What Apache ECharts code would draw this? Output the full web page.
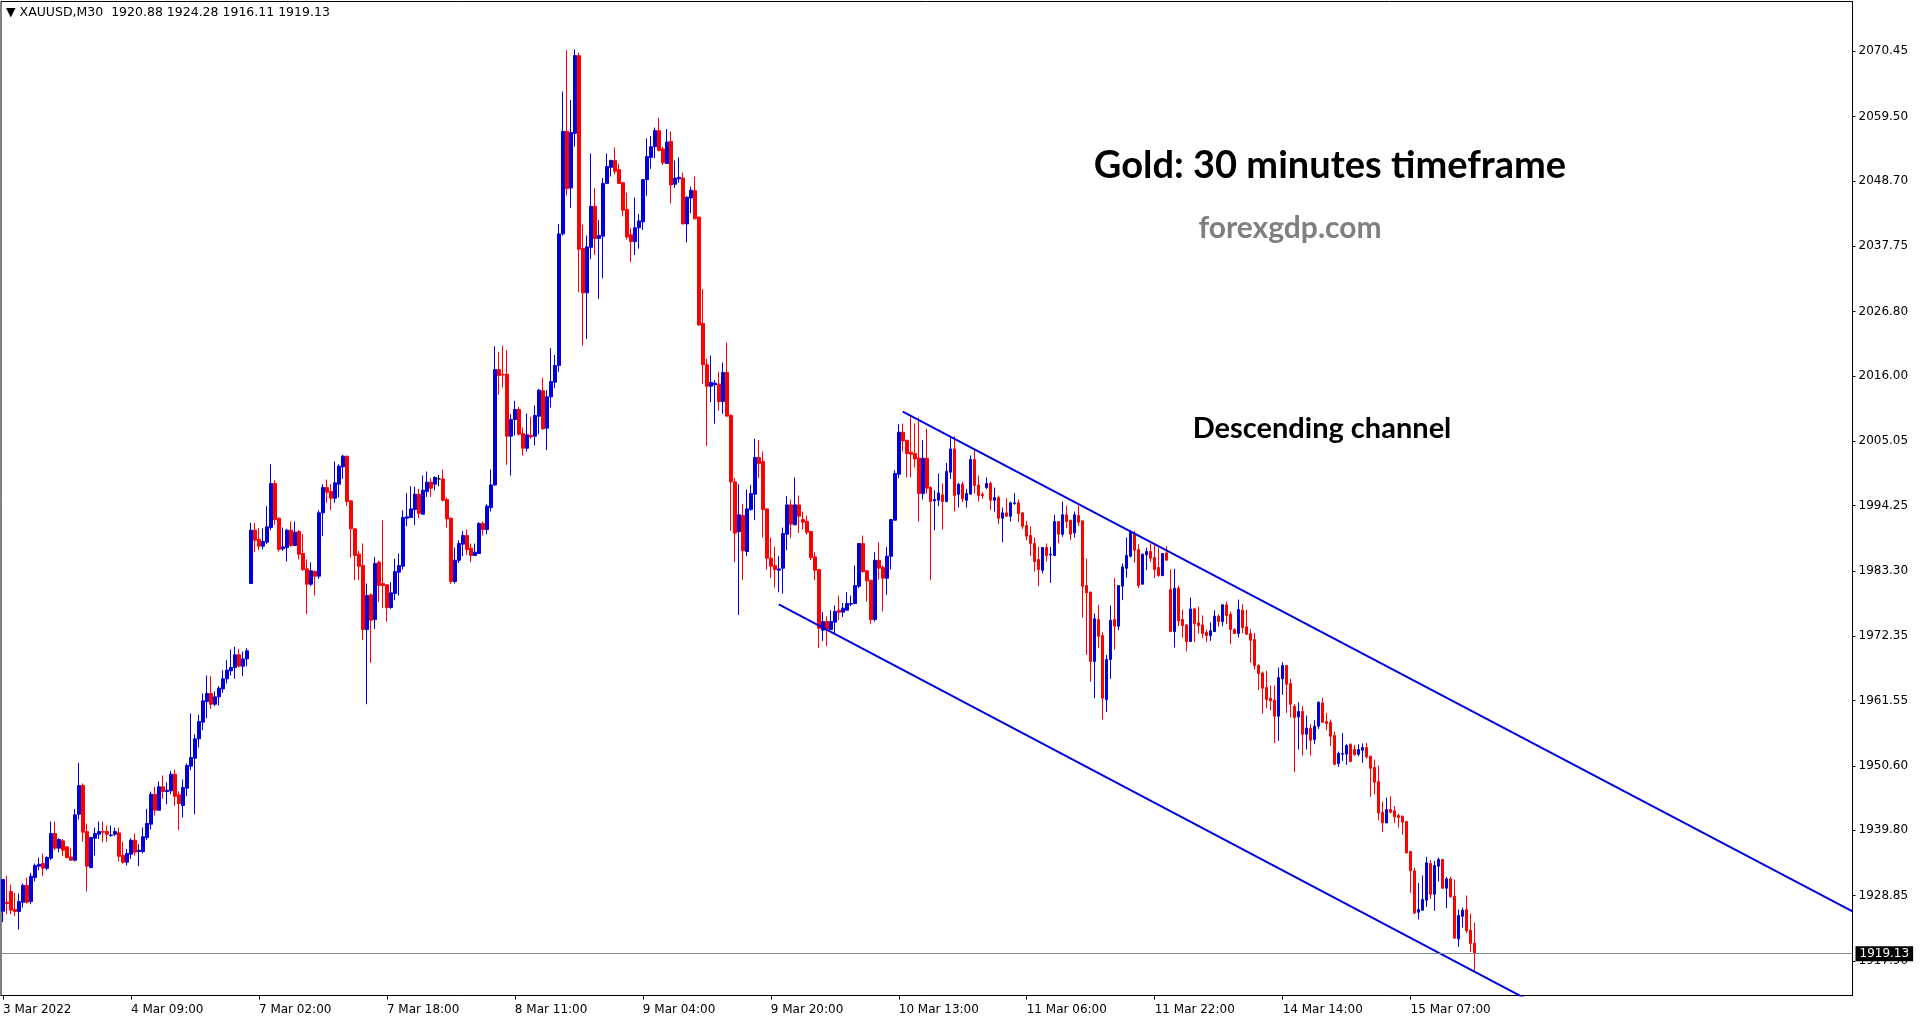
<!DOCTYPE html>
<html><head><meta charset="utf-8">
<script src="https://cdn.jsdelivr.net/npm/echarts@6/dist/echarts.min.js"></script>
<style>html,body{margin:0;padding:0;background:#fff;}#c{width:1925px;height:1023px;}</style>
</head><body><div id="c"></div>
<script>
const symbolName = 'XAUUSD,M30';
const timeTickLabels = ['3 Mar 2022','4 Mar 09:00','7 Mar 02:00','7 Mar 18:00','8 Mar 11:00','9 Mar 04:00','9 Mar 20:00','10 Mar 13:00','11 Mar 06:00','11 Mar 22:00','14 Mar 14:00','15 Mar 07:00'];
const barsPerTimeTick = 32;
const totalSlots = 463;
const priceTickLabels = [2070.45,2059.50,2048.70,2037.75,2026.80,2016.00,2005.05,1994.25,1983.30,1972.35,1961.55,1950.60,1939.80,1928.85,1917.90];
const priceMin = 1912.11, priceMax = 2078.77;

const opens = [1926.24,1927.75,1929.54,1926.52,1926.19,1927.75,1930.55,1927.86,1931.89,1933.79,1934.24,1933.45,1935.13,1939.27,1936.81,1938.04,1937.03,1935.35,1934.79,1942.51,1947.31,1939.60,1933.56,1938.48,1939.15,1939.60,1939.60,1938.93,1939.15,1939.38,1935.58,1934.46,1935.80,1938.15,1936.25,1936.25,1938.60,1940.83,1945.86,1943.18,1947.09,1946.31,1946.42,1949.21,1945.75,1943.96,1946.87,1950.56,1951.90,1955.14,1957.94,1961.40,1962.74,1960.95,1962.18,1963.52,1965.20,1966.54,1967.10,1969.23,1967.33,1968.55,1981.19,1990.13,1988.56,1987.45,1988.12,1990.57,1997.95,1992.14,1987.00,1987.22,1990.13,1987.56,1989.90,1986.22,1983.65,1981.07,1983.20,1982.42,1993.03,1997.28,1996.61,1995.49,1997.84,2000.75,2002.54,1995.05,1990.35,1986.10,1984.20,1973.47,1979.29,1975.15,1984.76,1981.18,1980.96,1977.16,1979.51,1983.08,1984.09,1992.14,1992.25,1993.59,1996.16,1992.81,1996.61,1998.17,1997.84,1998.73,1998.73,1995.27,1992.14,1981.52,1985.09,1987.78,1989.23,1987.11,1985.88,1986.21,1991.24,1990.24,1993.92,1997.72,2017.06,2016.28,2016.28,2005.89,2008.68,2010.36,2006.33,2003.87,2006.00,2005.89,2009.24,2013.49,2007.23,2012.48,2014.94,2017.73,2039.80,2056.99,2047.50,2056.67,2069.70,2037.36,2029.92,2037.55,2044.42,2039.03,2039.41,2048.27,2050.96,2052.12,2050.58,2048.39,2043.90,2039.67,2038.51,2040.83,2041.85,2048.91,2052.63,2054.43,2057.12,2054.04,2051.60,2055.32,2048.14,2049.04,2049.17,2041.47,2045.83,2047.05,2042.62,2024.79,2017.86,2014.26,2014.52,2014.65,2011.70,2016.57,2009.39,1998.22,1989.88,1992.58,1986.55,1993.59,1996.16,2002.31,2001.64,1993.70,1985.43,1984.20,1983.42,1983.75,1989.45,1994.37,1991.02,1994.37,1991.91,1991.58,1989.90,1985.65,1983.53,1973.36,1974.81,1973.47,1974.70,1976.71,1976.38,1976.71,1977.72,1977.83,1980.73,1987.89,1983.31,1981.74,1975.15,1985.09,1983.87,1982.08,1985.76,1991.80,1999.51,2006.56,2005.21,2003.20,2002.98,2002.20,1996.27,2002.20,1997.28,1995.04,1995.15,1996.05,1994.93,1999.85,2003.76,1996.16,1997.84,1995.15,1996.16,2001.97,1997.72,1996.16,1997.28,1997.95,1995.15,1995.60,1992.14,1993.03,1992.47,1994.60,1994.71,1993.03,1990.91,1989.23,1987.89,1985.21,1983.42,1987.22,1985.99,1985.88,1991.58,1989.45,1992.70,1991.80,1989.68,1992.58,1991.69,1980.85,1979.73,1968.10,1975.15,1972.46,1961.73,1968.44,1975.15,1974.03,1980.73,1983.75,1985.77,1989.57,1986.88,1981.07,1985.99,1986.55,1985.54,1983.87,1982.52,1986.32,1980.18,1973.14,1980.40,1975.15,1974.25,1971.46,1976.93,1974.59,1974.25,1973.02,1972.46,1973.14,1975.71,1974.81,1977.61,1976.04,1973.47,1972.80,1976.71,1973.92,1972.80,1971.79,1967.43,1966.20,1963.75,1961.96,1961.62,1958.94,1965.20,1967.43,1964.42,1960.61,1958.83,1959.72,1955.92,1956.93,1955.03,1957.26,1961.17,1958.04,1957.93,1955.70,1951.00,1952.57,1952.57,1954.24,1953.35,1952.57,1953.24,1953.69,1952.23,1950.33,1947.98,1942.84,1941.05,1943.29,1943.07,1942.28,1942.17,1941.28,1936.25,1933.01,1926.07,1926.41,1928.09,1934.24,1929.09,1933.79,1934.91,1930.10,1931.66,1928.76,1921.61,1925.40,1926.52,1923.06,1920.88];
const highs = [1931.66,1932.22,1930.71,1929.32,1929.21,1930.88,1931.89,1932.67,1934.24,1935.24,1935.91,1935.46,1941.28,1941.28,1938.48,1938.37,1937.14,1936.81,1943.40,1951.11,1947.65,1940.94,1938.71,1940.27,1941.28,1941.28,1940.61,1940.61,1940.27,1940.27,1937.92,1936.69,1938.48,1939.27,1937.48,1940.27,1943.40,1946.31,1947.09,1947.98,1948.99,1947.87,1949.77,1949.99,1946.31,1948.32,1951.00,1959.39,1955.92,1959.17,1962.74,1965.76,1965.65,1963.08,1963.97,1966.66,1968.33,1970.12,1970.57,1970.23,1969.78,1970.34,1991.36,1991.36,1990.46,1990.46,1994.15,2001.19,1998.51,1992.25,1990.57,1990.35,1991.58,1991.58,1990.13,1989.46,1985.21,1984.76,1983.42,1993.48,1997.84,1998.62,1997.84,2001.64,2001.19,2002.76,2002.54,1995.16,1990.46,1986.66,1987.89,1981.19,1979.51,1985.65,1984.98,1991.80,1981.07,1981.41,1985.32,1986.21,1993.48,1996.38,1997.50,1997.39,1997.05,1999.29,1999.96,1998.84,1999.18,1999.40,2000.30,1995.60,1992.25,1987.22,1988.45,1990.01,1990.24,1987.89,1987.89,1991.47,1991.58,1994.48,2000.30,2020.98,2019.97,2021.09,2020.30,2009.57,2011.81,2010.80,2007.34,2009.69,2009.13,2011.03,2013.82,2015.72,2013.60,2020.64,2019.52,2041.47,2063.66,2070.59,2062.25,2070.72,2070.21,2041.34,2039.54,2053.27,2047.50,2042.11,2049.17,2053.27,2052.24,2054.30,2051.60,2048.39,2046.73,2040.83,2045.89,2043.13,2048.91,2055.84,2056.22,2057.63,2059.30,2054.43,2057.38,2056.99,2052.12,2052.63,2050.06,2046.08,2047.75,2049.42,2042.62,2030.56,2018.88,2019.40,2015.29,2016.70,2018.24,2021.58,2009.52,1998.86,1997.84,1994.50,1996.94,1997.73,2005.44,2005.21,2003.31,1993.70,1988.90,1987.33,1985.76,1990.57,1995.83,1995.27,1998.96,1995.94,1993.25,1992.58,1990.01,1986.44,1983.53,1976.38,1975.70,1976.71,1977.49,1979.17,1977.94,1979.73,1979.17,1984.20,1987.89,1989.23,1983.42,1981.74,1986.44,1988.11,1984.20,1987.33,1992.02,2000.18,2007.90,2008.01,2005.21,2009.24,2008.01,2009.02,2005.21,2007.12,1997.50,1996.83,1999.63,1997.95,2001.41,2005.89,2005.89,1998.06,1998.28,1997.05,2002.64,2003.54,1999.29,1996.50,1998.96,1998.28,1997.28,1995.94,1993.92,1995.49,1994.93,1996.38,1995.27,1993.14,1991.69,1990.79,1988.90,1987.33,1987.22,1987.89,1987.33,1992.70,1991.58,1994.93,1994.26,1991.80,1993.25,1994.26,1991.69,1985.32,1979.84,1976.15,1977.61,1973.02,1969.22,1977.49,1982.08,1980.85,1984.54,1988.89,1990.12,1990.01,1987.78,1986.21,1987.22,1987.89,1987.67,1987.22,1986.21,1987.44,1983.53,1983.64,1980.85,1976.82,1974.36,1978.83,1977.05,1977.27,1975.82,1973.47,1974.70,1976.71,1976.04,1977.72,1978.16,1976.49,1973.69,1978.50,1977.72,1976.82,1973.58,1972.91,1967.66,1966.43,1966.54,1964.08,1964.08,1967.10,1967.99,1967.43,1965.20,1960.95,1961.29,1960.62,1959.05,1957.60,1958.27,1961.40,1962.07,1959.50,1958.38,1956.37,1953.01,1956.14,1954.24,1954.36,1954.13,1954.24,1954.36,1954.47,1952.23,1951.67,1950.67,1944.63,1945.30,1945.52,1943.85,1942.62,1942.28,1941.39,1936.36,1933.56,1930.99,1932.22,1935.35,1934.79,1934.68,1935.24,1935.02,1932.00,1932.00,1931.55,1926.52,1926.86,1928.87,1925.85,1924.28];
const lows = [1924.40,1925.74,1925.74,1925.40,1923.17,1926.86,1927.53,1927.42,1931.22,1933.12,1932.11,1933.12,1934.79,1936.47,1936.14,1935.46,1935.13,1934.79,1934.57,1941.61,1937.92,1929.54,1933.45,1935.58,1938.37,1937.81,1937.92,1938.71,1938.82,1934.57,1934.24,1933.90,1935.02,1935.58,1933.79,1935.91,1938.15,1939.94,1942.28,1943.18,1945.08,1944.18,1945.86,1943.85,1939.82,1941.95,1945.52,1949.89,1942.51,1953.69,1956.59,1958.61,1960.17,1960.62,1960.73,1962.85,1964.42,1965.76,1965.20,1967.10,1965.65,1967.33,1981.19,1986.44,1986.77,1986.89,1987.78,1990.13,1991.02,1986.55,1986.66,1984.87,1987.33,1987.56,1985.21,1983.31,1976.04,1980.74,1979.17,1981.97,1989.12,1994.71,1993.48,1994.71,1995.61,1998.74,1994.15,1985.54,1981.74,1981.74,1971.68,1960.95,1967.88,1973.58,1978.05,1977.05,1974.81,1976.93,1978.39,1979.17,1983.53,1990.79,1992.25,1991.02,1992.14,1992.81,1995.71,1995.71,1996.83,1997.50,1994.93,1990.57,1981.07,1981.18,1984.65,1985.77,1985.99,1984.76,1985.88,1986.21,1989.23,1989.45,1993.25,1997.61,2012.82,2014.05,2001.08,1999.29,2006.00,2006.00,2002.64,2003.31,2005.44,2004.32,2006.22,2007.00,2003.54,2010.69,2013.93,2016.70,2039.54,2046.21,2044.16,2054.43,2030.05,2021.06,2022.16,2035.56,2036.27,2028.89,2032.36,2048.14,2049.42,2049.81,2048.14,2042.75,2038.90,2035.05,2036.27,2037.36,2040.44,2046.21,2050.71,2052.50,2053.66,2051.35,2051.60,2044.93,2047.50,2048.39,2041.47,2038.39,2043.26,2042.24,2024.40,2014.65,2004.26,2011.57,2007.98,2010.16,2009.64,2009.13,1990.01,1984.75,1975.90,1981.80,1985.76,1993.37,1991.80,1998.84,1988.90,1983.53,1982.08,1980.51,1979.73,1979.51,1986.77,1988.78,1991.02,1989.68,1990.24,1989.34,1985.09,1981.74,1970.34,1971.57,1970.67,1973.47,1972.80,1975.03,1975.59,1976.71,1977.38,1977.83,1980.40,1982.97,1978.16,1974.36,1974.81,1981.85,1976.49,1979.28,1983.53,1991.80,1998.84,2003.31,1998.96,1998.96,2000.63,1991.58,1995.27,1996.27,1981.74,1990.12,1994.15,1990.24,1994.82,1998.73,1993.25,1993.92,1994.82,1993.92,1996.16,1996.27,1994.93,1995.38,1997.05,1993.48,1993.25,1991.13,1988.11,1992.36,1991.58,1994.37,1991.47,1990.35,1988.45,1985.77,1983.19,1980.73,1982.86,1984.87,1981.29,1985.77,1987.89,1989.01,1990.46,1988.45,1988.90,1990.79,1975.48,1969.22,1964.75,1961.96,1970.34,1958.38,1959.61,1965.20,1970.12,1973.36,1978.39,1982.19,1985.54,1984.65,1980.40,1981.07,1983.42,1984.76,1982.08,1982.30,1982.41,1985.09,1973.02,1970.45,1974.03,1972.13,1969.78,1971.46,1971.35,1972.80,1972.02,1971.35,1971.57,1973.02,1973.92,1974.03,1974.36,1971.01,1972.80,1972.13,1972.91,1972.58,1967.88,1966.76,1963.30,1959.39,1960.28,1959.94,1954.47,1954.80,1962.52,1959.50,1958.72,1949.55,1953.35,1952.34,1953.35,1952.34,1954.24,1956.81,1957.82,1956.59,1953.91,1950.67,1950.44,1951.45,1950.78,1951.23,1952.34,1952.23,1951.11,1951.78,1945.41,1945.86,1941.50,1939.49,1941.05,1942.62,1941.05,1940.27,1939.04,1935.91,1929.32,1925.74,1924.85,1926.41,1926.97,1928.31,1926.30,1931.22,1929.99,1926.75,1928.54,1921.72,1920.26,1923.50,1922.61,1919.37,1916.11];
const closes = [1931.55,1927.53,1926.41,1926.19,1927.86,1930.55,1927.75,1932.11,1933.90,1934.12,1933.45,1935.24,1939.27,1936.81,1938.26,1936.47,1935.24,1934.79,1942.40,1947.31,1939.49,1933.79,1938.60,1939.27,1939.60,1939.49,1939.15,1939.04,1939.60,1935.46,1934.46,1935.91,1938.15,1936.14,1936.47,1938.71,1940.94,1945.86,1943.18,1947.09,1946.31,1946.53,1949.21,1945.52,1944.30,1946.98,1950.67,1952.01,1955.14,1958.05,1961.51,1962.74,1960.95,1962.18,1963.64,1965.20,1966.66,1967.10,1969.23,1967.33,1968.55,1969.90,1990.13,1988.45,1987.45,1988.23,1990.69,1997.95,1991.92,1986.89,1987.33,1990.13,1987.56,1989.79,1986.10,1983.53,1981.07,1983.31,1982.42,1993.03,1997.28,1996.50,1995.49,1998.06,2000.86,2002.54,1994.93,1990.35,1985.88,1984.09,1973.47,1979.17,1975.04,1984.53,1980.85,1980.85,1977.16,1979.62,1983.19,1984.20,1992.25,1992.36,1993.70,1996.16,1992.92,1996.83,1998.17,1997.17,1998.96,1998.73,1995.15,1992.02,1981.52,1985.09,1987.89,1989.23,1986.88,1985.88,1986.44,1991.24,1990.24,1994.15,1997.72,2017.06,2016.06,2016.17,2005.89,2008.68,2010.36,2006.22,2003.87,2006.11,2005.77,2009.35,2013.60,2007.11,2012.48,2015.05,2017.73,2039.80,2056.99,2047.37,2056.80,2069.70,2037.23,2029.92,2037.62,2044.42,2039.03,2039.54,2048.27,2051.09,2052.12,2050.32,2048.27,2043.78,2039.28,2038.51,2040.83,2041.98,2048.91,2052.76,2054.43,2057.12,2053.78,2051.73,2055.20,2048.01,2049.17,2049.29,2041.47,2045.96,2047.11,2042.36,2024.53,2017.86,2014.26,2014.90,2014.78,2011.70,2016.57,2009.26,1998.22,1989.63,1992.71,1986.68,1993.70,1996.27,2002.31,2001.30,1993.59,1985.43,1984.09,1983.53,1983.64,1989.57,1994.37,1991.13,1994.37,1992.47,1991.47,1989.79,1985.54,1983.42,1973.69,1974.81,1973.58,1974.81,1976.49,1976.38,1977.05,1977.83,1977.83,1980.85,1987.89,1983.19,1981.63,1975.15,1985.09,1983.75,1982.08,1985.76,1991.91,1999.63,2006.56,2005.10,2002.98,2002.87,2002.08,1996.27,2002.20,1997.17,1994.93,1995.27,1996.38,1994.93,1999.96,2003.76,1995.94,1997.84,1995.38,1996.27,2001.97,1997.61,1995.94,1995.94,1997.95,1995.15,1995.60,1992.14,1993.03,1992.47,1994.71,1994.71,1992.92,1990.79,1989.12,1987.89,1984.87,1983.53,1987.22,1985.88,1986.10,1991.58,1989.45,1992.70,1991.58,1989.45,1992.70,1991.47,1980.73,1979.62,1968.10,1975.26,1972.35,1961.96,1968.44,1975.03,1974.03,1980.85,1983.98,1985.88,1989.79,1986.77,1980.85,1986.10,1986.55,1985.43,1983.53,1982.52,1986.21,1985.09,1973.14,1980.40,1974.92,1974.14,1971.46,1976.93,1974.48,1974.14,1972.80,1972.46,1973.25,1975.71,1974.81,1977.61,1975.82,1973.47,1972.80,1976.82,1973.81,1972.69,1971.68,1967.43,1966.09,1963.63,1961.73,1961.51,1958.94,1965.42,1967.43,1964.30,1960.95,1958.72,1959.72,1955.92,1956.93,1954.91,1957.26,1961.29,1957.93,1957.71,1955.59,1950.89,1952.68,1952.68,1954.02,1951.34,1952.46,1953.35,1953.69,1952.12,1950.22,1947.87,1942.73,1941.05,1943.29,1942.84,1942.06,1941.95,1941.17,1936.02,1933.01,1925.96,1926.52,1928.20,1934.35,1929.09,1933.90,1934.91,1930.10,1931.66,1928.65,1921.72,1925.52,1926.41,1922.95,1920.82,1919.13];

const upperChannel = [[225, 2010.0], [462.5, 1926.2]];
const lowerChannel = [[194, 1977.67], [390, 1908.31]];

const titleText = 'Gold: 30 minutes timeframe';
const siteText = 'forexgdp.com';
const patternText = 'Descending channel';

const bull = '#0000DD', bear = '#FF0000';
const last = closes.length - 1;
const lastClose = closes[last];
const header = '\u25BC ' + symbolName + '  ' + [opens[last], highs[last], lows[last], closes[last]].map(v => v.toFixed(2)).join(' ');

const slots = Array.from({length: totalSlots}, (_, i) => String(i));
const candleData = opens.map((o, i) => [o, closes[i], lows[i], highs[i]]);
const isTimeTick = (idx) => idx % barsPerTimeTick === 0 && idx / barsPerTimeTick < timeTickLabels.length;

const chart = echarts.init(document.getElementById('c'), null, {renderer: 'canvas'});
chart.setOption({
  animation: false,
  backgroundColor: '#fff',
  grid: {left: 0.5, top: 1.5, width: 1852, height: 994, show: true, borderColor: '#000', borderWidth: 1, containLabel: false},
  xAxis: [{
    type: 'category', data: slots, boundaryGap: true,
    axisLine: {show: true, onZero: false, lineStyle: {color: '#000', width: 1}},
    axisTick: {show: true, alignWithLabel: true, interval: (i) => isTimeTick(i), length: 4, lineStyle: {color: '#000'}},
    axisLabel: {show: true, interval: (i) => isTimeTick(i), formatter: (v, i) => timeTickLabels[i / barsPerTimeTick] || '', align: 'left', margin: 8, color: '#000', fontFamily: 'DejaVu Sans', fontSize: 12},
    splitLine: {show: false}
  }, {
    type: 'value', min: -0.5, max: totalSlots - 0.5, show: false,
    axisLine: {show: false, onZero: false}, axisTick: {show: false}, axisLabel: {show: false}, splitLine: {show: false}
  }],
  yAxis: [{
    type: 'value', position: 'right', min: priceMin, max: priceMax, scale: true,
    axisLine: {show: true, onZero: false, lineStyle: {color: '#000', width: 1}},
    axisTick: {show: true, customValues: priceTickLabels, length: 3, lineStyle: {color: '#000'}},
    axisLabel: {show: true, customValues: priceTickLabels, formatter: (v) => v.toFixed(2), margin: 6, color: '#000', fontFamily: 'DejaVu Sans', fontSize: 12},
    splitLine: {show: false}
  }],
  series: [{
    type: 'candlestick', xAxisIndex: 0, yAxisIndex: 0, data: candleData, barWidth: 3,
    itemStyle: {color: bull, color0: bear, borderColor: bull, borderColor0: bear, borderColorDoji: '#000', borderWidth: 1},
    emphasis: {disabled: true},
    markLine: {
      symbol: ['none', 'none'], silent: true, animation: false,
      lineStyle: {color: '#7d8a96', width: 1, type: 'solid'},
      label: {show: true, position: 'end', distance: 3, formatter: () => lastClose.toFixed(2), color: '#fff', backgroundColor: '#000', padding: [2, 4, 1, 4], fontFamily: 'DejaVu Sans', fontSize: 12},
      emphasis: {disabled: true},
      data: [{yAxis: lastClose}]
    }
  }, {
    type: 'line', xAxisIndex: 1, yAxisIndex: 0, data: upperChannel, symbol: 'none', clip: true,
    lineStyle: {color: bull, width: 2}, emphasis: {disabled: true}, silent: true
  }, {
    type: 'line', xAxisIndex: 1, yAxisIndex: 0, data: lowerChannel, symbol: 'none', clip: true,
    lineStyle: {color: bull, width: 2}, emphasis: {disabled: true}, silent: true
  }],
  graphic: [
    {type: 'text', left: 6, top: 6, silent: true, style: {text: header, fill: '#000', font: '12.5px "DejaVu Sans"'}},
    {type: 'text', x: 1330, y: 166, silent: true, style: {text: titleText, fill: '#000', font: 'bold 38px Lato', align: 'center', verticalAlign: 'middle'}},
    {type: 'text', x: 1290, y: 228, silent: true, style: {text: siteText, fill: '#7f7f7f', font: 'bold 30px Lato', align: 'center', verticalAlign: 'middle'}},
    {type: 'text', x: 1322, y: 429, silent: true, style: {text: patternText, fill: '#000', font: 'bold 29px Lato', align: 'center', verticalAlign: 'middle'}}
  ]
});
</script></body></html>
